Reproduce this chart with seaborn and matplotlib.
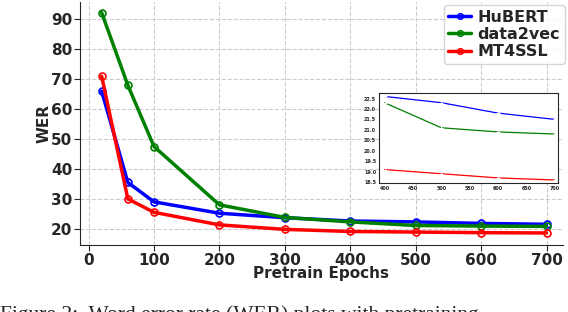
import numpy as np
import pandas as pd
import matplotlib
matplotlib.use("Agg")
import matplotlib.pyplot as plt
import seaborn as sns

# data
epochs = [20, 60, 100, 200, 300, 400, 500, 600, 700]
hubert = [66.0, 35.5, 29.0, 25.2, 23.7, 22.6, 22.3, 21.8, 21.5]
data2vec = [92.3, 68.0, 47.5, 28.0, 23.8, 22.3, 21.1, 20.9, 20.8]
mt4ssl = [71.0, 30.0, 25.5, 21.3, 19.8, 19.1, 18.9, 18.7, 18.6]

models = ["HuBERT", "data2vec", "MT4SSL"]
colors = {"HuBERT": "blue", "data2vec": "green", "MT4SSL": "red"}

df = pd.DataFrame({
    "epoch": epochs * 3,
    "wer": hubert + data2vec + mt4ssl,
    "model": sum([[m] * len(epochs) for m in models], []),
})

sns.set_style("white")
plt.rcParams["font.family"] = ["DejaVu Sans"]
plt.rcParams["font.weight"] = "bold"

fig = plt.figure(figsize=(5.68, 3.12), dpi=100)
ax = fig.add_axes([0.141, 0.215, 0.85, 0.78])

for m in models:
    sub = df[df.model == m]
    sns.lineplot(data=sub, x="epoch", y="wer", ax=ax, color=colors[m], label=m,
                 linewidth=2.5, marker="o", markersize=5, markerfacecolor="none",
                 markeredgecolor=colors[m], markeredgewidth=1.2)

ax.set_ylim(14.6, 96)
ax.set_xlim(-13, 725)
ax.set_xticks([0, 100, 200, 300, 400, 500, 600, 700])
ax.set_yticks([20, 30, 40, 50, 60, 70, 80, 90])
ax.grid(True, linestyle="--", color="#cccccc", linewidth=0.8)
ax.tick_params(labelsize=11, length=4, pad=1.5, left=True, bottom=True)
for lab in ax.get_xticklabels() + ax.get_yticklabels():
    lab.set_fontweight("bold")
ax.set_xlabel("Pretrain Epochs", fontsize=11, fontweight="bold", labelpad=-1)
ax.set_ylabel("WER", fontsize=11, fontweight="bold", labelpad=0)
sns.despine(ax=ax)
leg = ax.legend(loc="upper right", prop={"size": 11.5, "weight": "bold"},
                handlelength=1.4, borderpad=0.3, labelspacing=0.15, handletextpad=0.4,
                borderaxespad=0.2, bbox_to_anchor=(1.01, 1.0))
for h in leg.get_lines():
    h.set_markersize(4)

# zoomed inset
ins = fig.add_axes([0.667, 0.413, 0.315, 0.288])
for m in models:
    sub = df[(df.model == m) & (df.epoch >= 400)]
    sns.lineplot(data=sub, x="epoch", y="wer", ax=ins, color=colors[m],
                 linewidth=0.9, marker="+", markersize=3, legend=False)
ins.set_xlim(390, 705)
ins.set_ylim(18.45, 22.75)
ins.set_xticks([400, 450, 500, 550, 600, 650, 700])
ins.set_yticks([18.5, 19.0, 19.5, 20.0, 20.5, 21.0, 21.5, 22.0, 22.5])
ins.tick_params(labelsize=3.5, length=1, pad=1)
ins.set_xlabel("")
ins.set_ylabel("")
for s in ins.spines.values():
    s.set_linewidth(0.8)

# caption of the paper page, cut off by the bottom edge (only its top shows)
fig.text(0.0, 0.022, "Figure 2:  Word error rate (WER) plots with pretraining",
         fontsize=15.5, family="Liberation Serif", fontweight="normal", va="top")

fig.savefig("out.png", dpi=100)
